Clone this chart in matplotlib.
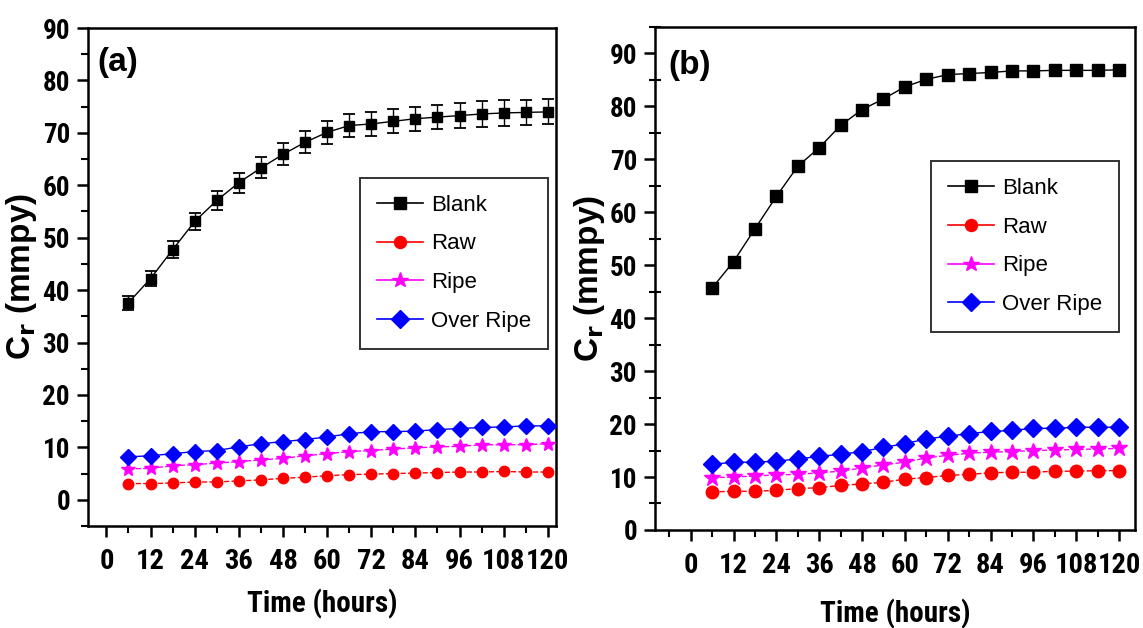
import matplotlib
matplotlib.use("Agg")
import matplotlib.pyplot as plt
from matplotlib.lines import Line2D
from matplotlib.ticker import MultipleLocator

plt.rcParams["font.family"] = ["Liberation Sans", "DejaVu Sans"]
NARROW = ["Liberation Sans Narrow", "Roboto Condensed", "DejaVu Sans Condensed",
          "Liberation Sans", "DejaVu Sans"]

hours = [6, 12, 18, 24, 30, 36, 42, 48, 54, 60, 66, 72, 78, 84, 90, 96, 102, 108, 114, 120]

# (a)
blank_a = [37.6, 42.2, 47.7, 53.1, 57.1, 60.5, 63.3, 65.9, 68.2, 70.1,
           71.4, 71.7, 72.2, 72.7, 73.0, 73.3, 73.6, 73.8, 73.9, 74.0]
blank_a_err = [1.3, 1.4, 1.6, 1.7, 1.8, 1.9, 2.0, 2.1, 2.1, 2.2,
               2.2, 2.3, 2.3, 2.3, 2.3, 2.4, 2.4, 2.4, 2.4, 2.4]
raw_a = [3.1, 3.1, 3.2, 3.4, 3.4, 3.6, 3.8, 4.1, 4.3, 4.6,
         4.8, 4.9, 5.0, 5.1, 5.2, 5.3, 5.3, 5.4, 5.3, 5.3]
ripe_a = [5.9, 6.0, 6.5, 6.7, 7.0, 7.3, 7.6, 7.9, 8.4, 8.8,
          9.2, 9.4, 9.7, 9.9, 10.1, 10.2, 10.5, 10.5, 10.5, 10.7]
over_a = [8.2, 8.4, 8.8, 9.2, 9.4, 10.1, 10.7, 11.1, 11.5, 12.0,
          12.6, 13.0, 13.0, 13.1, 13.4, 13.6, 13.8, 13.9, 14.1, 14.1]

# (b)
blank_b = [45.7, 50.7, 56.9, 63.0, 68.7, 72.2, 76.4, 79.4, 81.4, 83.7,
           85.1, 86.0, 86.2, 86.4, 86.7, 86.7, 86.8, 86.8, 86.8, 86.9]
raw_b = [7.2, 7.3, 7.3, 7.5, 7.8, 8.0, 8.4, 8.7, 9.0, 9.6,
         9.9, 10.3, 10.5, 10.8, 10.9, 10.9, 11.1, 11.1, 11.2, 11.2]
ripe_b = [9.9, 10.0, 10.2, 10.4, 10.5, 10.8, 11.1, 11.7, 12.3, 12.8,
          13.6, 14.1, 14.5, 14.7, 14.8, 15.0, 15.1, 15.2, 15.3, 15.4]
over_b = [12.4, 12.8, 12.8, 13.0, 13.4, 13.9, 14.3, 14.8, 15.6, 16.3,
          17.2, 17.7, 18.2, 18.6, 18.8, 19.2, 19.2, 19.4, 19.4, 19.4]

labels = ["Blank", "Raw", "Ripe", "Over Ripe"]
colors = ["black", "red", "magenta", "blue"]
markers = ["s", "o", "*", "D"]
styles = ["-", "--", "--", "-"]
msize_a = [7, 7.5, 10, 8]
msize_b = [8.5, 9, 12, 9.5]

fig = plt.figure(figsize=(11.43, 6.28), dpi=100)
ax_a = fig.add_axes([0.0770, 0.1624, 0.4094, 0.7930])
ax_b = fig.add_axes([0.5731, 0.1561, 0.4200, 0.8010])


def draw(ax, series, sizes, err=None):
    for i, (ys, c, m, ls, ms) in enumerate(zip(series, colors, markers, styles, sizes)):
        ax.plot(hours, ys, linestyle=ls, color=c, linewidth=1.0, marker=m,
                markersize=ms, markeredgecolor=c, markerfacecolor=c, zorder=3)
        if i == 0 and err is not None:
            ax.errorbar(hours, ys, yerr=err, fmt="none", ecolor="black",
                        elinewidth=1.0, capsize=4.5, capthick=1.3, zorder=2)


def style(ax, tag, ylim, xlim, tagpos, legpos, xpad, ylx, inout):
    ax.set_xlim(*xlim)
    ax.set_ylim(*ylim)
    ax.set_xticks(range(0, 121, 12))
    ax.xaxis.set_minor_locator(MultipleLocator(6))
    ax.yaxis.set_major_locator(MultipleLocator(10))
    ax.yaxis.set_minor_locator(MultipleLocator(5))
    ax.tick_params(which="major", direction="out", length=8, width=1.8)
    ax.tick_params(which="minor", direction="out", length=5, width=1.5)
    if inout:
        ax.tick_params(axis="y", which="minor", direction="inout", length=8)
    ax.tick_params(axis="x", which="major", pad=8)
    ax.tick_params(axis="y", which="major", pad=5)
    for sp in ax.spines.values():
        sp.set_linewidth(1.8)
    for t in ax.get_xticklabels():
        t.set_family(NARROW)
        t.set_fontstretch("condensed")
        t.set_fontweight("bold")
        t.set_fontsize(20.5)
    for t in ax.get_yticklabels():
        t.set_family(NARROW)
        t.set_fontstretch("condensed")
        t.set_fontweight("bold")
        t.set_fontsize(19.5)
    ax.set_xlabel("Time (hours)", family=NARROW, fontstretch="condensed",
                  fontweight="bold", fontsize=21, labelpad=xpad)
    ax.set_ylabel(r"C$_\mathbf{r}$ (mmpy)", fontweight="bold", fontsize=24)
    ax.yaxis.set_label_coords(ylx, 0.5)
    ax.text(tagpos[0], tagpos[1], tag, transform=ax.transAxes, fontsize=24,
            fontweight="bold", va="top", ha="left")
    handles = [Line2D([], [], color=c, linewidth=1.2, marker=m, markersize=ms * 1.15,
                      markerfacecolor=c, markeredgecolor=c)
               for c, m, ms in zip(colors, markers, msize_a)]
    leg = ax.legend(handles, labels, loc="upper left", bbox_to_anchor=legpos,
                    borderaxespad=0, fontsize=16, frameon=True, fancybox=False,
                    edgecolor="black", handlelength=2.1, borderpad=0.75,
                    labelspacing=0.8, handletextpad=0.35)
    leg.get_frame().set_linewidth(1.4)


draw(ax_a, [blank_a, raw_a, ripe_a, over_a], msize_a, err=blank_a_err)
style(ax_a, "(a)", (-5, 90), (-5, 122.2), (0.021, 0.962), (0.581, 0.699),
      10, -0.105, False)

draw(ax_b, [blank_b, raw_b, ripe_b, over_b], msize_b)
style(ax_b, "(b)", (0, 95), (-10, 124.5), (0.027, 0.954), (0.575, 0.733),
      14, -0.1, True)

fig.savefig("out.png", dpi=100)
